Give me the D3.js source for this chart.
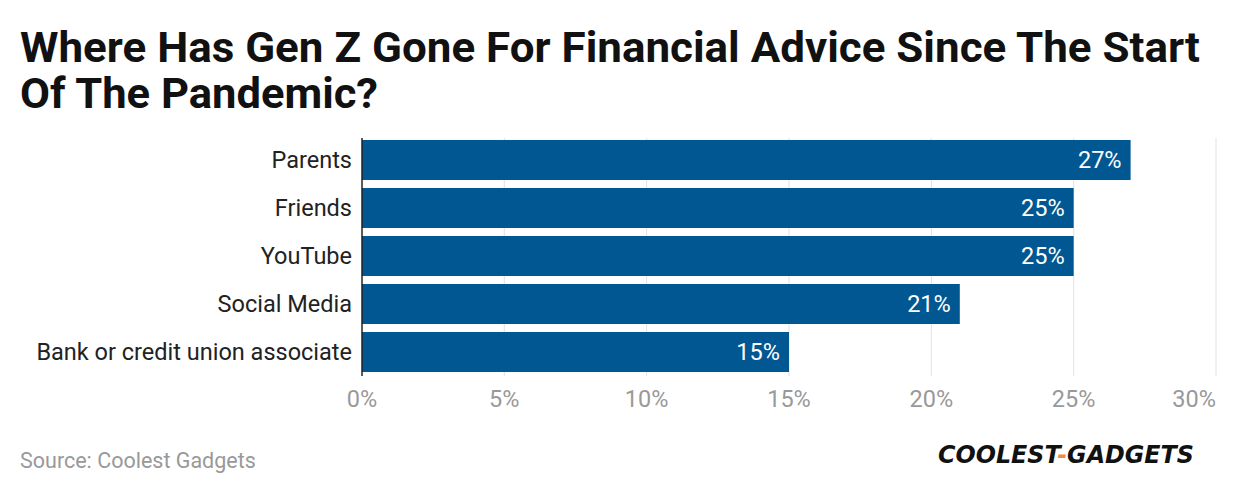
<!DOCTYPE html>
<html><head><meta charset="utf-8">
<script src="https://cdn.jsdelivr.net/npm/d3@7"></script>
<style>body{margin:0;background:#fff;font-family:Roboto,sans-serif}</style>
</head><body>
<svg id="c" width="1240" height="494"></svg>
<script>
const categories = ["Parents","Friends","YouTube","Social Media","Bank or credit union associate"];
const values = [27,25,25,21,15];
const ticks = [0,5,10,15,20,25,30];

const svg = d3.select("#c");
const x = d3.scaleLinear().domain([0,30]).range([362,1216]);
const y = d3.scaleBand().domain(categories).range([136,376]).paddingInner(0.1667).paddingOuter(0.083);

svg.append("text").attr("x",20).attr("y",62).attr("font-size",42).attr("font-weight",700).attr("fill","#111")
  .attr("textLength",1180).attr("lengthAdjust","spacingAndGlyphs")
  .text("Where Has Gen Z Gone For Financial Advice Since The Start");
svg.append("text").attr("x",20).attr("y",108).attr("font-size",42).attr("font-weight",700).attr("fill","#111")
  .attr("textLength",358).attr("lengthAdjust","spacingAndGlyphs")
  .text("Of The Pandemic?");

svg.append("g").selectAll("line").data(ticks.slice(1)).join("line")
  .attr("x1",d=>x(d)).attr("x2",d=>x(d)).attr("y1",138).attr("y2",376)
  .attr("stroke","#e2e2e2").attr("stroke-width",1);

svg.append("g").selectAll("rect").data(values).join("rect")
  .attr("x",x(0)).attr("y",(d,i)=>y(categories[i])).attr("width",d=>x(d)-x(0)).attr("height",y.bandwidth())
  .attr("fill","#005792");

svg.append("line").attr("x1",x(0)).attr("x2",x(0)).attr("y1",138).attr("y2",376).attr("stroke","#222").attr("stroke-width",1.5);

svg.append("g").selectAll("text").data(values).join("text")
  .attr("x",d=>x(d)-9).attr("y",(d,i)=>y(categories[i])+y.bandwidth()/2+8)
  .attr("text-anchor","end").attr("font-size",23.5).attr("fill","#fff").text(d=>d+"%");

svg.append("g").selectAll("text").data(categories).join("text")
  .attr("x",352).attr("y",d=>y(d)+y.bandwidth()/2+8)
  .attr("text-anchor","end").attr("font-size",23.5).attr("fill","#222").text(d=>d);

svg.append("g").selectAll("text").data(ticks).join("text")
  .attr("x",d=>x(d)).attr("y",407).attr("text-anchor",(d,i)=>i===ticks.length-1?"end":"middle")
  .attr("font-size",23.5).attr("fill","#999").text(d=>d+"%");

svg.append("text").attr("x",20).attr("y",468).attr("font-size",21.5).attr("fill","#999").text("Source: Coolest Gadgets");

const logo = svg.append("text").attr("x",938).attr("y",463).attr("font-size",24).attr("font-weight",900)
  .attr("font-style","italic").attr("font-family","'DejaVu Sans',sans-serif").attr("fill","#111")
  .attr("textLength",256).attr("lengthAdjust","spacingAndGlyphs");
logo.append("tspan").text("COOLEST");
logo.append("tspan").attr("fill","#f08a4b").text("-");
logo.append("tspan").text("GADGETS");
</script>
</body></html>
